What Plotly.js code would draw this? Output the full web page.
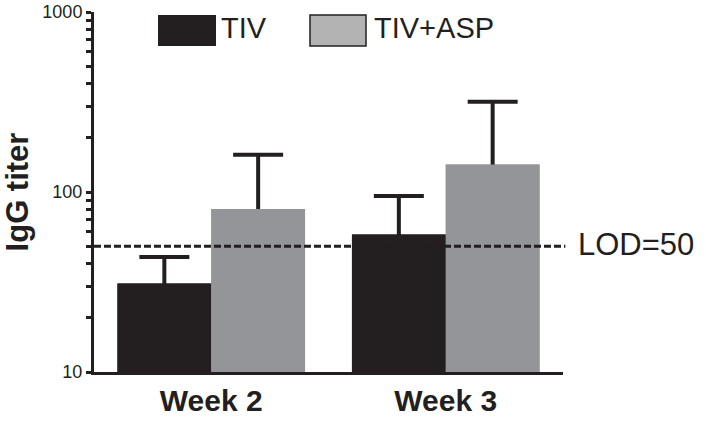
<!DOCTYPE html>
<html>
<head>
<meta charset="utf-8">
<script src="https://cdn.plot.ly/plotly-3.0.1.min.js"></script>
<style>html,body{margin:0;padding:0;background:#fff;}#chart{width:706px;height:422px;}</style>
</head>
<body>
<div id="chart"></div>
<script>
// ---- data ----
const categories = ['Week 2', 'Week 3'];
const seriesNames = ['TIV', 'TIV+ASP'];
const tivMean = [31, 58];
const tivUpper = [43.5, 95];      // top of the error bar
const aspMean = [80.5, 142];
const aspUpper = [161, 317];      // top of the error bar
const lodValue = 50;
const lodLabel = 'LOD=50';
const yTickVals = [10, 20, 30, 40, 50, 60, 70, 80, 90, 100, 200, 300, 400, 500, 600, 700, 800, 900, 1000];
const yTickText = ['10', '', '', '', '', '', '', '', '', '100', '', '', '', '', '', '', '', '', '1000'];
const yTitle = 'IgG titer';

// ---- styles ----
const INK = '#231f20';
const BLACK_BAR = '#231f20';
const GRAY_BAR = '#939598';
const GRAY_LEGEND = '#b3b3b3';
const FONT = 'Liberation Sans, Arial, sans-serif';

function upErr(mean, upper) { return mean.map((m, i) => upper[i] - m); }
function hideShoe(mean) { return mean.map(m => m * 0.4); }

function errTrace(name, mean, upper, color, group) {
  return {
    type: 'bar', x: categories, y: mean, name: name, offsetgroup: group,
    marker: {color: color, line: {width: 0}},
    error_y: {type: 'data', symmetric: false, array: upErr(mean, upper), arrayminus: hideShoe(mean),
              color: INK, thickness: 4, width: 25},
    showlegend: false, hoverinfo: 'skip'
  };
}
function coverTrace(name, mean, color, group) {
  return {
    type: 'bar', x: categories, y: mean, name: name, offsetgroup: group,
    marker: {color: color, line: {width: 0}},
    showlegend: false
  };
}

const data = [
  errTrace(seriesNames[0], tivMean, tivUpper, BLACK_BAR, 'a'),
  errTrace(seriesNames[1], aspMean, aspUpper, GRAY_BAR, 'b'),
  coverTrace(seriesNames[0], tivMean, BLACK_BAR, 'a'),
  coverTrace(seriesNames[1], aspMean, GRAY_BAR, 'b')
];

const pw = 469, ph = 360, L = 94, T = 12;
function px2paperX(p) { return (p - L) / pw; }
function px2paperY(p) { return (T + ph - p) / ph; }

const layout = {
  width: 706, height: 422,
  margin: {l: L, r: 706 - L - pw, t: T, b: 50, pad: 0},
  paper_bgcolor: '#ffffff', plot_bgcolor: '#ffffff',
  barmode: 'group', bargap: 0.2, bargroupgap: 0,
  showlegend: false,
  font: {family: FONT, color: INK},
  xaxis: {
    type: 'category', range: [-0.5, 1.5],
    showline: true, linewidth: 3, linecolor: INK,
    ticks: '', showgrid: false, zeroline: false,
    tickfont: {family: FONT, size: 30, weight: 'bold', color: INK}
  },
  yaxis: {
    type: 'log', range: [1, 3],
    showline: true, linewidth: 3, linecolor: INK,
    ticks: 'outside', ticklen: 5, tickwidth: 3, tickcolor: INK,
    tickvals: yTickVals, ticktext: yTickText,
    tickfont: {family: FONT, size: 18, color: INK},
    showgrid: false, zeroline: false,
    title: {text: yTitle, font: {family: FONT, size: 31, weight: 'bold', color: INK}, standoff: 7}
  },
  shapes: [
    {type: 'line', xref: 'paper', yref: 'y', x0: 0, x1: 1.005, y0: lodValue, y1: lodValue,
     line: {color: INK, width: 3, dash: '7px,3px'}},
    {type: 'rect', xref: 'paper', yref: 'paper', x0: px2paperX(158), x1: px2paperX(216),
     y0: px2paperY(46), y1: px2paperY(15), fillcolor: BLACK_BAR, line: {width: 0}},
    {type: 'rect', xref: 'paper', yref: 'paper', x0: px2paperX(310), x1: px2paperX(366),
     y0: px2paperY(46), y1: px2paperY(15), fillcolor: GRAY_LEGEND, line: {width: 1.5, color: INK}}
  ],
  annotations: [
    {xref: 'paper', yref: 'y', x: 1, y: Math.log10(lodValue), xanchor: 'left', yanchor: 'middle',
     xshift: 13, yshift: 2, showarrow: false, text: lodLabel, font: {family: FONT, size: 31, color: INK}},
    {xref: 'paper', yref: 'paper', x: px2paperX(219), y: px2paperY(28.5), xanchor: 'left', yanchor: 'middle',
     showarrow: false, text: seriesNames[0], font: {family: FONT, size: 29, color: INK}},
    {xref: 'paper', yref: 'paper', x: px2paperX(372), y: px2paperY(28.5), xanchor: 'left', yanchor: 'middle',
     showarrow: false, text: seriesNames[1], font: {family: FONT, size: 29, color: INK}}
  ]
};

Plotly.newPlot('chart', data, layout, {displayModeBar: false, staticPlot: true});
</script>
</body>
</html>
